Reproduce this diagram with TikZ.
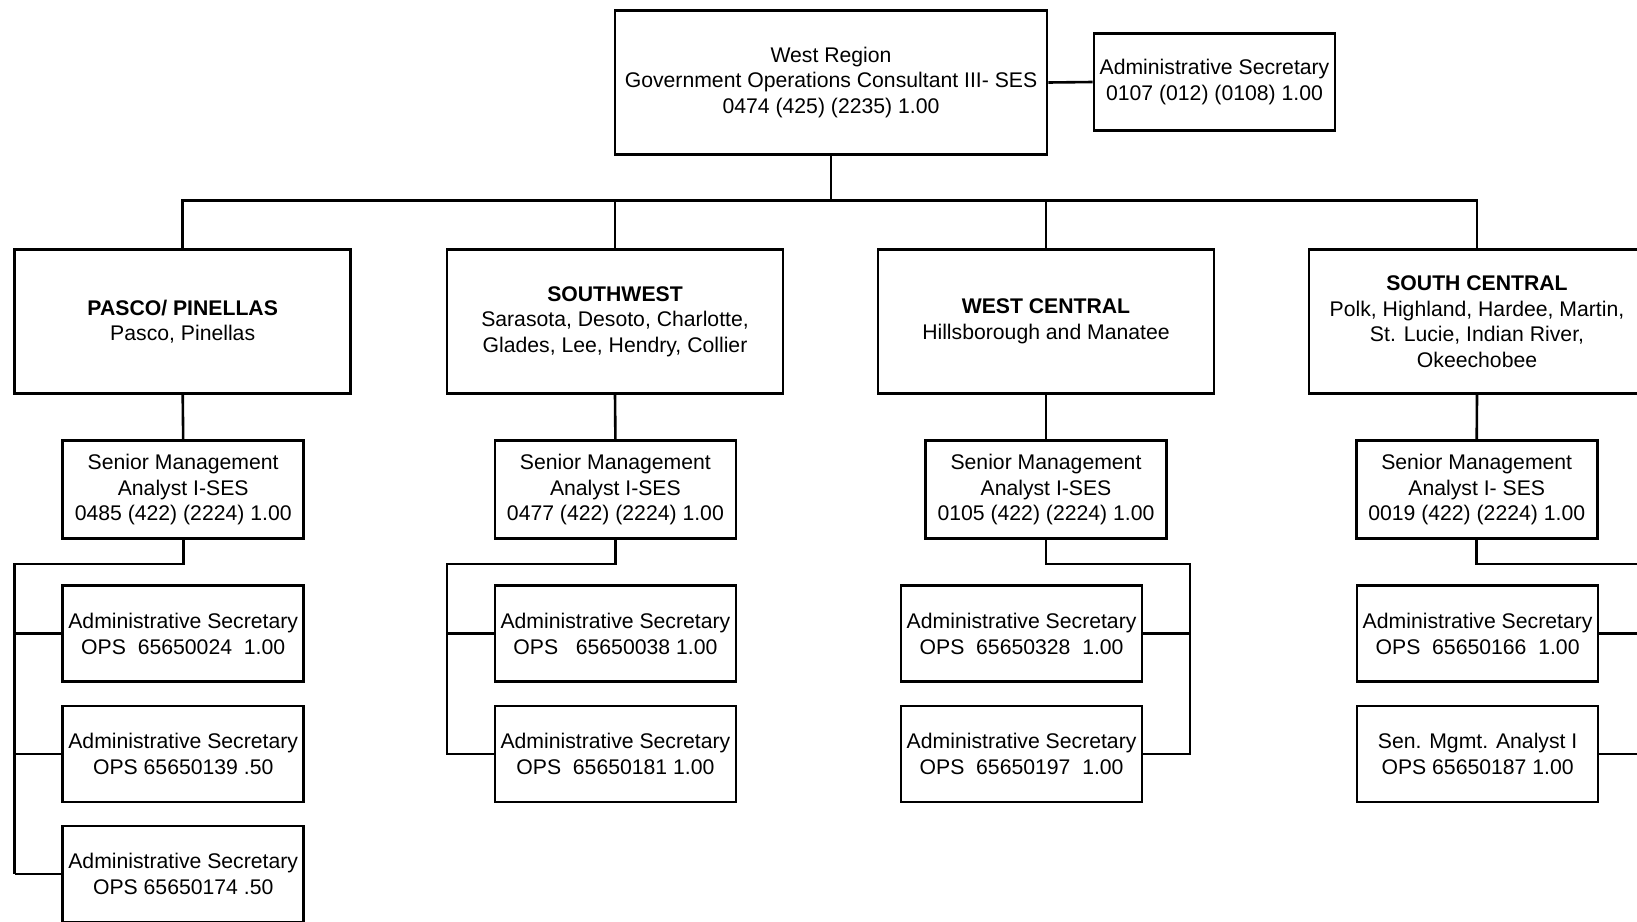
\documentclass[tikz,border=0pt]{standalone}
\usepackage{fontspec}
\setmainfont{Liberation Sans}
\begin{document}
\begin{tikzpicture}[x=1pt,y=-1pt,
  box/.style={draw, line width=2.6pt, align=center, inner sep=0pt, fill=white,
    font=\fontsize{21.2}{25.6}\selectfont},
  topbox/.style={box, minimum width=432pt, minimum height=144pt},
  tsecbox/.style={box, minimum width=241pt, minimum height=97pt},
  regbox/.style={box, minimum width=336pt, minimum height=144pt},
  smabox/.style={box, minimum width=241pt, minimum height=98pt},
  secbox/.style={box, minimum width=241pt, minimum height=96pt},
  conn/.style={draw, line width=2.6pt, line join=miter}]
\useasboundingbox (0,0) rectangle (1637,921);
\clip (0,0) rectangle (1637,921);

% top
\node[topbox] (top) at (831,82.5) {West Region\\Government Operations Consultant III- SES\\0474 (425) (2235) 1.00};
\node[tsecbox] (tsec) at (1214.5,82) {Administrative Secretary\\0107 (012) (0108) 1.00};

% regions
\node[regbox] (pasco) at (182.7,321.5) {\textbf{PASCO/ PINELLAS}\\Pasco, Pinellas};
\node[regbox] (sw) at (615,321.5) {\textbf{SOUTHWEST}\\Sarasota, Desoto, Charlotte,\\Glades, Lee, Hendry, Collier};
\node[regbox] (wc) at (1046,321.5) {\textbf{WEST CENTRAL}\\Hillsborough and Manatee};
\node[regbox] (sc) at (1477,321.5) {\textbf{SOUTH CENTRAL}\\Polk, Highland, Hardee, Martin,\\St. Lucie, Indian River,\\Okeechobee};

% senior management analysts
\node[smabox] (psma) at (183.2,489.6) {Senior Management\\Analyst I-SES\\0485 (422) (2224) 1.00};
\node[smabox] (swsma) at (615.4,489.6) {Senior Management\\Analyst I-SES\\0477 (422) (2224) 1.00};
\node[smabox] (wcsma) at (1046,489.6) {Senior Management\\Analyst I-SES\\0105 (422) (2224) 1.00};
\node[smabox] (scsma) at (1476.7,489.6) {Senior Management\\Analyst I- SES\\0019 (422) (2224) 1.00};

% secretaries
\node[secbox] (p1) at (183.2,633.7) {Administrative Secretary\\OPS\ \ 65650024\ \ 1.00};
\node[secbox] (p2) at (183.2,753.8) {Administrative Secretary\\OPS 65650139 .50};
\node[secbox] (p3) at (183.2,873.8) {Administrative Secretary\\OPS 65650174 .50};
\node[secbox] (sw1) at (615.4,633.7) {Administrative Secretary\\OPS\ \ \ 65650038 1.00};
\node[secbox] (sw2) at (615.4,753.8) {Administrative Secretary\\OPS\ \ 65650181 1.00};
\node[secbox] (wc1) at (1021.6,633.7) {Administrative Secretary\\OPS\ \ 65650328\ \ 1.00};
\node[secbox] (wc2) at (1021.6,753.8) {Administrative Secretary\\OPS\ \ 65650197\ \ 1.00};
\node[secbox] (sc1) at (1477.6,633.7) {Administrative Secretary\\OPS\ \ 65650166\ \ 1.00};
\node[secbox] (sc2) at (1477.6,753.8) {Sen. Mgmt. Analyst I\\OPS 65650187 1.00};

% top connectors
\coordinate (bus) at (831,200.4);
\draw[conn] (top.east) -- (tsec.west);
\draw[conn] (top.south) -- (bus);
\draw[conn] (pasco.north) |- (sc.north |- bus) -- (sc.north);
\draw[conn] (sw.north) -- (sw.north |- bus);
\draw[conn] (wc.north) -- (wc.north |- bus);

% region to SMA
\draw[conn] (pasco.south) -- (psma.north);
\draw[conn] (sw.south) -- (swsma.north);
\draw[conn] (wc.south) -- (wcsma.north);
\draw[conn] (sc.south) -- (scsma.north);

% Pasco branch
\coordinate (pb) at (14.6,563.8);
\draw[conn] (psma.south) |- (pb) -- (pb |- p3.west);
\draw[conn] (pb |- p1.west) -- (p1.west);
\draw[conn] (pb |- p2.west) -- (p2.west);
\draw[conn] (pb |- p3.west) -- (p3.west);

% Southwest branch
\coordinate (swb) at (446.8,563.8);
\draw[conn] (swsma.south) |- (swb) -- (swb |- sw2.west) -- (sw2.west);
\draw[conn] (swb |- sw1.west) -- (sw1.west);

% West Central branch
\coordinate (wcb) at (1190,563.8);
\draw[conn] (wcsma.south) |- (wcb) -- (wcb |- wc2.east) -- (wc2.east);
\draw[conn] (wc1.east) -- (wc1.east -| wcb);

% South Central branch
\coordinate (scb) at (1660,563.8);
\draw[conn] (scsma.south) |- (scb) -- (scb |- sc2.east) -- (sc2.east);
\draw[conn] (sc1.east) -- (sc1.east -| scb);
\end{tikzpicture}
\end{document}
